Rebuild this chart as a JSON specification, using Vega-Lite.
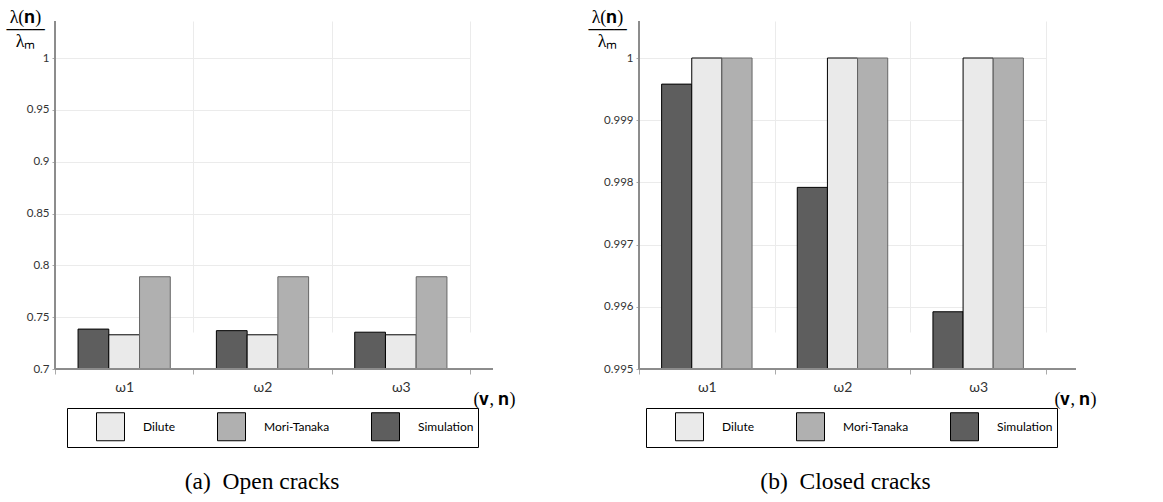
{
  "$schema": "https://vega.github.io/schema/vega-lite/v6.json",
  "padding": {"left": 5, "top": 8, "right": 5, "bottom": 5},
  "datasets": {
    "open": [
      {"omega": "ω1", "method": "Simulation", "value": 0.7385},
      {"omega": "ω1", "method": "Dilute", "value": 0.733},
      {"omega": "ω1", "method": "Mori-Tanaka", "value": 0.789},
      {"omega": "ω2", "method": "Simulation", "value": 0.737},
      {"omega": "ω2", "method": "Dilute", "value": 0.733},
      {"omega": "ω2", "method": "Mori-Tanaka", "value": 0.789},
      {"omega": "ω3", "method": "Simulation", "value": 0.7355},
      {"omega": "ω3", "method": "Dilute", "value": 0.733},
      {"omega": "ω3", "method": "Mori-Tanaka", "value": 0.789}
    ],
    "closed": [
      {"omega": "ω1", "method": "Simulation", "value": 0.99958},
      {"omega": "ω1", "method": "Dilute", "value": 1},
      {"omega": "ω1", "method": "Mori-Tanaka", "value": 1},
      {"omega": "ω2", "method": "Simulation", "value": 0.99792},
      {"omega": "ω2", "method": "Dilute", "value": 1},
      {"omega": "ω2", "method": "Mori-Tanaka", "value": 1},
      {"omega": "ω3", "method": "Simulation", "value": 0.99592},
      {"omega": "ω3", "method": "Dilute", "value": 1},
      {"omega": "ω3", "method": "Mori-Tanaka", "value": 1}
    ]
  },
  "spacing": 72,
  "hconcat": [
    {
      "data": {"name": "open"},
      "width": 438,
      "height": 348,
      "title": {"text": "(a)\u00a0 Open cracks", "orient": "bottom", "anchor": "middle", "font": "Liberation Serif", "fontSize": 23.5, "fontWeight": "normal", "color": "#000", "offset": 22, "dx": -12},
      "layer": [
        {
          "mark": {"type": "bar", "strokeWidth": 1},
          "encoding": {
            "x": {
              "field": "omega", "type": "nominal",
              "scale": {"range": [0, 415], "paddingInner": 0, "paddingOuter": 0},
              "axis": {
                "title": "(𝐯, 𝐧)", "domain": false, "grid": true, "gridColor": "#ebebeb", "tickBand": "extent",
                "tickColor": "#aaaaaa", "tickSize": 5, "labelAngle": 0, "labelFontSize": 14, "labelPadding": 6, "labelColor": "#333",
                "titleX": 418, "titleY": 35, "titleAlign": "left", "titleBaseline": "alphabetic",
                "titleFont": "Liberation Serif", "titleFontSize": 18, "titleFontWeight": "normal", "titleColor": "#000"
              }
            },
            "xOffset": {"field": "method", "sort": ["Simulation", "Dilute", "Mori-Tanaka"], "scale": {"paddingInner": 0, "paddingOuter": 0.75}},
            "y": {
              "field": "value", "type": "quantitative",
              "scale": {"domain": [0.7, 1], "range": [348, 37], "zero": false, "nice": false},
              "axis": {
                "values": [0.7, 0.75, 0.8, 0.85, 0.9, 0.95, 1], "format": "~g", "domain": false, "gridColor": "#ebebeb",
                "tickSize": 3, "tickColor": "#aaaaaa", "labelFontSize": 11.5, "labelPadding": 3, "labelColor": "#333",
                "title": ["λ(𝐧)", "───", "λₘ"], "titleAngle": 0, "titleX": -30, "titleY": -13, "titleAlign": "center",
                "titleBaseline": "top", "titleFont": "Liberation Serif", "titleFontSize": 18, "titleLineHeight": 12,
                "titleFontWeight": "normal", "titleColor": "#000"
              }
            },
            "y2": {"datum": 0.7},
            "fill": {
              "field": "method", "type": "nominal",
              "scale": {"domain": ["Dilute", "Mori-Tanaka", "Simulation"], "range": ["#eaeaea", "#b0b0b0", "#5e5e5e"]},
              "legend": {
                "orient": "none", "legendX": 12, "legendY": 387, "direction": "horizontal", "title": null,
                "symbolType": "square", "symbolSize": 784, "symbolStrokeColor": "#000", "symbolStrokeWidth": 1,
                "symbolOffset": 25, "labelOffset": 18, "labelFontSize": 12, "labelColor": "#000", "columnPadding": 16,
                "strokeColor": "#000", "padding": 4, "fillColor": "#fff"
              }
            },
            "stroke": {"condition": {"test": "datum.method === 'Mori-Tanaka'", "value": "#666"}, "value": "#000"}
          }
        },
        {"mark": {"type": "rule", "color": "#8c8c8c"}, "encoding": {"y": {"datum": 0.7}}},
        {"mark": {"type": "rule", "color": "#8c8c8c"}, "encoding": {"x": {"datum": "ω1", "bandPosition": 0}}}
      ]
    },
    {
      "data": {"name": "closed"},
      "width": 437,
      "height": 348,
      "title": {"text": "(b)\u00a0 Closed cracks", "orient": "bottom", "anchor": "middle", "font": "Liberation Serif", "fontSize": 23.5, "fontWeight": "normal", "color": "#000", "offset": 22, "dx": -12},
      "layer": [
        {
          "mark": {"type": "bar", "strokeWidth": 1},
          "encoding": {
            "x": {
              "field": "omega", "type": "nominal",
              "scale": {"range": [0, 407], "paddingInner": 0, "paddingOuter": 0},
              "axis": {
                "title": "(𝐯, 𝐧)", "domain": false, "grid": true, "gridColor": "#ebebeb", "tickBand": "extent",
                "tickColor": "#aaaaaa", "tickSize": 5, "labelAngle": 0, "labelFontSize": 14, "labelPadding": 6, "labelColor": "#333",
                "titleX": 415, "titleY": 35, "titleAlign": "left", "titleBaseline": "alphabetic",
                "titleFont": "Liberation Serif", "titleFontSize": 18, "titleFontWeight": "normal", "titleColor": "#000"
              }
            },
            "xOffset": {"field": "method", "sort": ["Simulation", "Dilute", "Mori-Tanaka"], "scale": {"paddingInner": 0, "paddingOuter": 0.75}},
            "y": {
              "field": "value", "type": "quantitative",
              "scale": {"domain": [0.995, 1], "range": [348, 37], "zero": false, "nice": false},
              "axis": {
                "values": [0.995, 0.996, 0.997, 0.998, 0.999, 1], "format": "~g", "domain": false, "gridColor": "#ebebeb",
                "tickSize": 3, "tickColor": "#aaaaaa", "labelFontSize": 11.5, "labelPadding": 3, "labelColor": "#333",
                "title": ["λ(𝐧)", "───", "λₘ"], "titleAngle": 0, "titleX": -32, "titleY": -13, "titleAlign": "center",
                "titleBaseline": "top", "titleFont": "Liberation Serif", "titleFontSize": 18, "titleLineHeight": 12,
                "titleFontWeight": "normal", "titleColor": "#000"
              }
            },
            "y2": {"datum": 0.995},
            "fill": {
              "field": "method", "type": "nominal",
              "scale": {"domain": ["Dilute", "Mori-Tanaka", "Simulation"], "range": ["#eaeaea", "#b0b0b0", "#5e5e5e"]},
              "legend": {
                "orient": "none", "legendX": 7, "legendY": 387, "direction": "horizontal", "title": null,
                "symbolType": "square", "symbolSize": 784, "symbolStrokeColor": "#000", "symbolStrokeWidth": 1,
                "symbolOffset": 25, "labelOffset": 18, "labelFontSize": 12, "labelColor": "#000", "columnPadding": 16,
                "strokeColor": "#000", "padding": 4, "fillColor": "#fff"
              }
            },
            "stroke": {"condition": {"test": "datum.method === 'Mori-Tanaka'", "value": "#666"}, "value": "#000"}
          }
        },
        {"mark": {"type": "rule", "color": "#8c8c8c"}, "encoding": {"y": {"datum": 0.995}}},
        {"mark": {"type": "rule", "color": "#8c8c8c"}, "encoding": {"x": {"datum": "ω1", "bandPosition": 0}}}
      ]
    }
  ],
  "resolve": {
    "scale": {"fill": "independent", "x": "independent", "y": "independent", "xOffset": "independent"},
    "legend": {"fill": "independent"}
  },
  "config": {
    "font": "Lato",
    "view": {"stroke": null}
  }
}
